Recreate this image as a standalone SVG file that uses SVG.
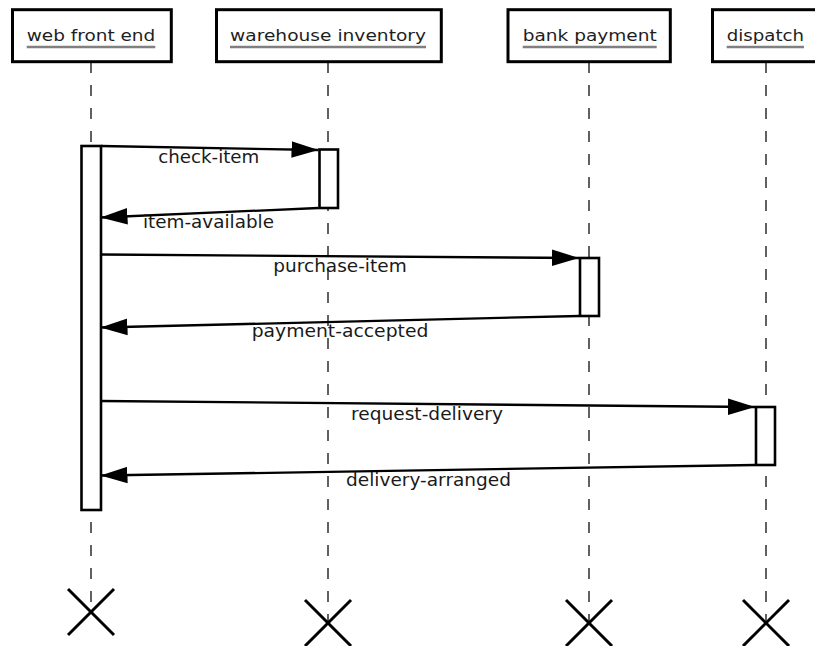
<svg xmlns="http://www.w3.org/2000/svg" width="815" height="646" viewBox="0 0 815 646">
  <style>
    .head { fill: #ffffff; stroke: #000000; stroke-width: 3; }
    .head-text { font-family: "DejaVu Sans", "Liberation Sans", sans-serif; font-size: 16.5px; fill: #1e1e1e; text-anchor: middle; }
    .uline { stroke: #808080; stroke-width: 2.4; }
    .life { stroke: #3a3a3a; stroke-width: 1.6; stroke-dasharray: 11 12; fill: none; }
    .bar { fill: #ffffff; stroke: #000000; stroke-width: 2.6; }
    .msg { stroke: #000000; stroke-width: 2.3; fill: none; marker-end: url(#arrow); }
    .label { font-family: "DejaVu Sans", "Liberation Sans", sans-serif; font-size: 18px; fill: #1a1a1a; text-anchor: middle; }
    .end { stroke: #000000; stroke-width: 3; }
  </style>
  <defs>
    <marker id="arrow" markerUnits="userSpaceOnUse" markerWidth="28" markerHeight="18" viewBox="0 -9 28 18" refX="27" refY="0" orient="auto">
      <path d="M0,-8.3 L27,0 L0,8.3 z" fill="#000000"/>
    </marker>
  </defs>

  <rect width="815" height="646" fill="#ffffff"/>

  <!-- lifelines (drawn first so activation bars sit on top) -->
  <g id="lifelines">
    <line class="life" x1="91" y1="62" x2="91" y2="612"/>
    <line class="life" x1="328" y1="62" x2="328" y2="623"/>
    <line class="life" x1="589" y1="62" x2="589" y2="623"/>
    <line class="life" x1="766" y1="62" x2="766" y2="623"/>
  </g>

  <!-- participant: web front end -->
  <g id="web-front-end">
    <rect class="head" x="12.5" y="9.7" width="158.8" height="52"/>
    <text class="head-text" x="91" y="41.3" textLength="128.6" lengthAdjust="spacingAndGlyphs">web front end</text>
    <line class="uline" x1="26.7" y1="47" x2="155.3" y2="47"/>
    <rect class="bar" x="81.5" y="146" width="19.5" height="364"/>
    <g class="end">
      <line x1="68" y1="589" x2="114" y2="635"/>
      <line x1="114" y1="589" x2="68" y2="635"/>
    </g>
  </g>

  <!-- participant: warehouse inventory -->
  <g id="warehouse-inventory">
    <rect class="head" x="216.5" y="9.7" width="224.8" height="52"/>
    <text class="head-text" x="328" y="41.3" textLength="196" lengthAdjust="spacingAndGlyphs">warehouse inventory</text>
    <line class="uline" x1="230" y1="47" x2="426" y2="47"/>
    <rect class="bar" x="319.5" y="149.5" width="18.5" height="58.5"/>
    <g class="end">
      <line x1="305" y1="600" x2="351" y2="646"/>
      <line x1="351" y1="600" x2="305" y2="646"/>
    </g>
  </g>

  <!-- participant: bank payment -->
  <g id="bank-payment">
    <rect class="head" x="508" y="9.7" width="162.3" height="52"/>
    <text class="head-text" x="589.7" y="41.3" textLength="134" lengthAdjust="spacingAndGlyphs">bank payment</text>
    <line class="uline" x1="522.7" y1="47" x2="656.7" y2="47"/>
    <rect class="bar" x="580" y="258" width="19" height="58"/>
    <g class="end">
      <line x1="566" y1="600" x2="612" y2="646"/>
      <line x1="612" y1="600" x2="566" y2="646"/>
    </g>
  </g>

  <!-- participant: dispatch -->
  <g id="dispatch">
    <rect class="head" x="712.5" y="9.7" width="107" height="52"/>
    <text class="head-text" x="765.4" y="41.3" textLength="77.3" lengthAdjust="spacingAndGlyphs">dispatch</text>
    <line class="uline" x1="726.7" y1="47" x2="804" y2="47"/>
    <rect class="bar" x="756" y="407" width="19" height="58"/>
    <g class="end">
      <line x1="743" y1="600" x2="789" y2="646"/>
      <line x1="789" y1="600" x2="743" y2="646"/>
    </g>
  </g>

  <!-- messages -->
  <g id="messages">
    <path class="msg" d="M101,146 L318.5,150"/>
    <path class="msg" d="M318.5,208 L100.5,217.5"/>
    <path class="msg" d="M101,254.5 L579,258"/>
    <path class="msg" d="M579,316 L100.5,327.5"/>
    <path class="msg" d="M101,401 L755,407"/>
    <path class="msg" d="M755,465 L100.5,475.5"/>
  </g>

  <g id="message-labels">
    <text class="label" x="208.8" y="163.3" textLength="101" lengthAdjust="spacingAndGlyphs">check-item</text>
    <text class="label" x="208.5" y="228.3" textLength="131" lengthAdjust="spacingAndGlyphs">item-available</text>
    <text class="label" x="340" y="271.7" textLength="133.3" lengthAdjust="spacingAndGlyphs">purchase-item</text>
    <text class="label" x="340" y="337" textLength="176.7" lengthAdjust="spacingAndGlyphs">payment-accepted</text>
    <text class="label" x="427" y="419.5" textLength="152" lengthAdjust="spacingAndGlyphs">request-delivery</text>
    <text class="label" x="428.5" y="485.5" textLength="165" lengthAdjust="spacingAndGlyphs">delivery-arranged</text>
  </g>
</svg>
